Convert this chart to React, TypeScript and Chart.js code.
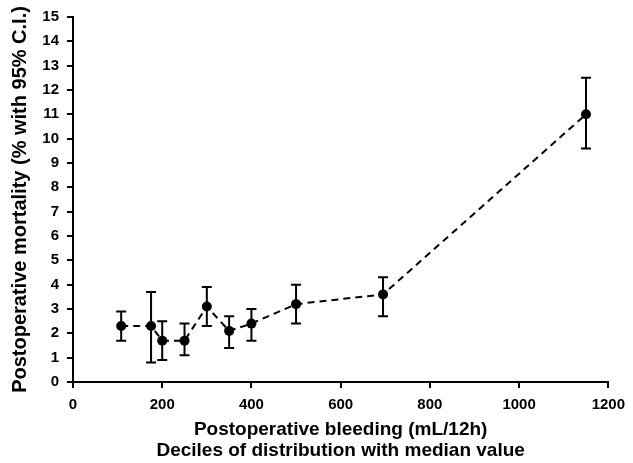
import React, { useEffect, useRef } from "react";
import { Chart, registerables } from "chart.js";

Chart.register(...registerables);

const bleeding = [108, 175, 200, 250, 300, 350, 400, 500, 695, 1150];
const mortality = [2.3, 2.3, 1.7, 1.7, 3.1, 2.1, 2.4, 3.2, 3.6, 11.0];
const ciLow = [1.7, 0.8, 0.9, 1.1, 2.3, 1.4, 1.7, 2.4, 2.7, 9.6];
const ciHigh = [2.9, 3.7, 2.5, 2.4, 3.9, 2.7, 3.0, 4.0, 4.3, 12.5];

const xTitle = ["Postoperative bleeding (mL/12h)", "Deciles of distribution with median value"];
const yTitle = "Postoperative mortality (% with 95% C.I.)";

const FONT = "'Liberation Sans', Arial, sans-serif";

const errorBars = {
  id: "errorBars",
  beforeDatasetsDraw(chart: any) {
    const { ctx, scales } = chart;
    const xs = scales.x;
    const ys = scales.y;
    ctx.save();
    ctx.strokeStyle = "#000";
    ctx.lineWidth = 2;
    ctx.setLineDash([]);
    const cap = 5;
    for (let i = 0; i < bleeding.length; i++) {
      const x = xs.getPixelForValue(bleeding[i]);
      const yl = ys.getPixelForValue(ciLow[i]);
      const yh = ys.getPixelForValue(ciHigh[i]);
      ctx.beginPath();
      ctx.moveTo(x, yl);
      ctx.lineTo(x, yh);
      ctx.moveTo(x - cap, yl);
      ctx.lineTo(x + cap, yl);
      ctx.moveTo(x - cap, yh);
      ctx.lineTo(x + cap, yh);
      ctx.stroke();
    }
    ctx.restore();
  },
};

export default function App() {
  const ref = useRef<HTMLCanvasElement>(null);
  useEffect(() => {
    document.body.style.margin = "0";
    const c = ref.current!;
    const chart = new Chart(c, {
      type: "line",
      data: {
        datasets: [
          {
            data: bleeding.map((x, i) => ({ x, y: mortality[i] })),
            borderColor: "#000",
            borderWidth: 2,
            borderDash: [7, 5],
            pointRadius: 5,
            pointBackgroundColor: "#000",
            pointBorderColor: "#000",
            pointBorderWidth: 0,
            fill: false,
            tension: 0,
          },
        ],
      },
      options: {
        animation: false,
        responsive: false,
        devicePixelRatio: 1,
        layout: { padding: { top: 17, right: 18, left: 0, bottom: 0 } },
        plugins: { legend: { display: false }, tooltip: { enabled: false } },
        scales: {
          x: {
            type: "linear",
            min: 0,
            max: 1200,
            afterFit(scale: any) {
              scale.height = 81;
            },
            ticks: {
              stepSize: 200,
              color: "#000",
              padding: 8,
              maxRotation: 0,
              callback: (v: any) => String(v),
              font: { family: FONT, size: 15, weight: "bold" },
            },
            grid: {
              drawOnChartArea: false,
              drawTicks: true,
              tickLength: 6,
              color: "#000",
              lineWidth: 2,
            },
            border: { color: "#000", width: 2 },
            title: {
              display: true,
              text: xTitle,
              color: "#000",
              padding: { top: 0, bottom: 1 },
              font: { family: FONT, size: 19, weight: "bold", lineHeight: 1.13 },
            },
          },
          y: {
            type: "linear",
            min: 0,
            max: 15,
            afterFit(scale: any) {
              scale.width = 73;
            },
            ticks: {
              stepSize: 1,
              color: "#000",
              padding: 8,
              callback: (v: any) => String(v),
              font: { family: FONT, size: 15, weight: "bold" },
            },
            grid: {
              drawOnChartArea: false,
              drawTicks: true,
              tickLength: 6,
              color: "#000",
              lineWidth: 2,
            },
            border: { color: "#000", width: 2 },
            title: {
              display: true,
              text: yTitle,
              color: "#000",
              padding: { top: 8, bottom: 0 },
              font: { family: FONT, size: 20, weight: "bold", lineHeight: 1.2 },
            },
          },
        },
      },
      plugins: [errorBars],
    });
    return () => chart.destroy();
  }, []);
  return <canvas ref={ref} width={633} height={463} style={{ display: "block" }} />;
}
